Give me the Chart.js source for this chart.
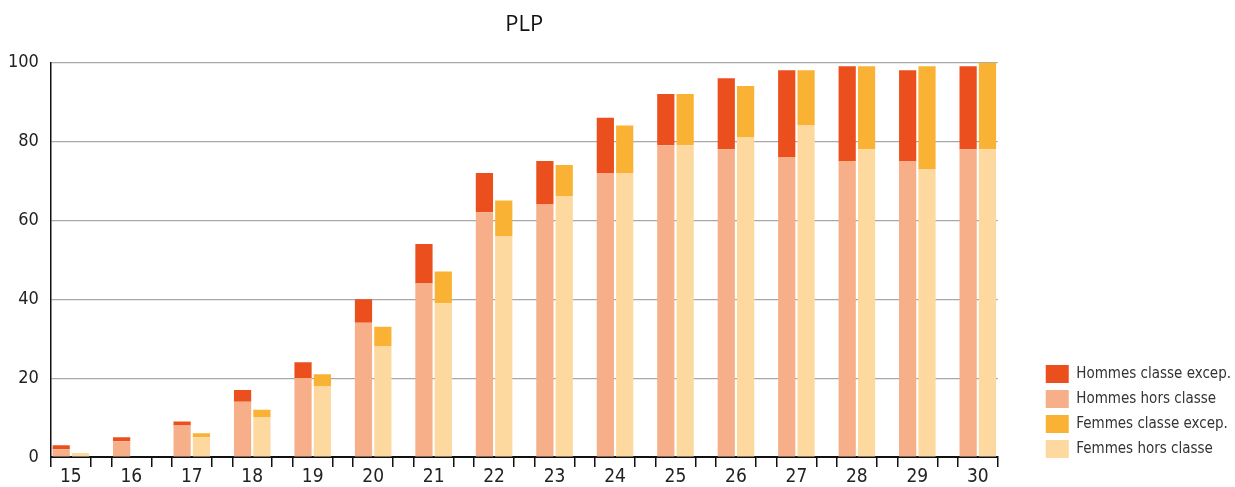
<!DOCTYPE html>
<html>
<head>
<meta charset="utf-8">
<script src="https://cdn.jsdelivr.net/npm/chart.js@4"></script>
<style>
  html, body { margin: 0; padding: 0; background: #fff; }
  #wrap { width: 1235px; height: 487px; position: relative; }
</style>
</head>
<body>
<div id="wrap"><canvas id="plpChart"></canvas></div>
<script>
//Chart data
var categories = [15, 16, 17, 18, 19, 20, 21, 22, 23, 24, 25, 26, 27, 28, 29, 30];
var hommesHors = [2, 4, 8, 14, 20, 34, 44, 62, 64, 72, 79, 78, 76, 75, 75, 78];
var hommesExcep = [1, 1, 1, 3, 4, 6, 10, 10, 11, 14, 13, 18, 22, 24, 23, 21];
var femmesHors = [1, 0, 5, 10, 18, 28, 39, 56, 66, 72, 79, 81, 84, 78, 73, 78];
var femmesExcep = [0, 0, 1, 2, 3, 5, 8, 9, 8, 12, 13, 13, 14, 21, 26, 22];
var yTicks = [0, 20, 40, 60, 80, 100];

var half = 0.33; //half width of a pair of bars, in x units
var narrow = "'Liberation Sans Narrow', 'DejaVu Sans Condensed', sans-serif";

//Make {x,y} points for the linear x scale
function toPoints(values){
  var pts = [];
  for(i = 0; i < values.length; i++){
    pts.push({x: categories[i], y: values[i]});
  }
  return pts;
}

function makeDataset(label, values, color, stack){
  return {
    label: label,
    data: toPoints(values),
    backgroundColor: color,
    borderWidth: 0,
    stack: stack,
    categoryPercentage: 0.64,
    barPercentage: 0.89
  };
}

//legend order: excep first, hors second
var legendRank = [1, 0, 3, 2];

//push the legend a little lower, like the original
var legendShift = {
  id: 'legendShift',
  afterLayout: function(chart){
    chart.legend.top += 8;
    chart.legend.bottom += 8;
  }
};

function initChart(){
  var ctx = document.getElementById('plpChart').getContext('2d');
  var myChart = new Chart(ctx, {
    type: 'bar',
    data: {
      datasets: [
        makeDataset('Hommes hors classe', hommesHors, 'rgb(246,175,137)', 'H'),
        makeDataset('Hommes classe excep.', hommesExcep, 'rgb(235,79,29)', 'H'),
        makeDataset('Femmes hors classe', femmesHors, 'rgb(253,217,160)', 'F'),
        makeDataset('Femmes classe excep.', femmesExcep, 'rgb(250,178,52)', 'F')
      ]
    },
    plugins: [legendShift],
    options: {
      responsive: true,
      maintainAspectRatio: false,
      animation: false,
      layout: { padding: { left: -4, right: -6, top: 6, bottom: 0 } },
      plugins: {
        title: {
          display: true,
          text: 'PLP',
          fullSize: false,
          color: '#111',
          font: { family: "'Open Sans', sans-serif", size: 22, weight: 'normal' },
          padding: { top: 6, bottom: 24 }
        },
        legend: {
          position: 'right',
          align: 'end',
          fullSize: false,
          labels: {
            boxWidth: 23,
            boxHeight: 18,
            padding: 7,
            color: '#333',
            font: { family: narrow, size: 15 },
            sort: function(a, b){
              return legendRank[a.datasetIndex] - legendRank[b.datasetIndex];
            }
          }
        },
        tooltip: { enabled: false }
      },
      scales: {
        x: {
          type: 'linear',
          stacked: true,
          offset: false,
          weight: 1,
          min: categories[0] - half,
          max: categories[categories.length - 1] + half,
          afterBuildTicks: function(scale){
            scale.ticks = categories.map(function(v){ return {value: v}; });
          },
          grid: { display: false, drawTicks: false, offset: false },
          border: { display: false },
          ticks: {
            autoSkip: false,
            maxRotation: 0,
            padding: 0,
            color: '#222',
            font: { family: narrow, size: 19, lineHeight: 1.05 }
          }
        },
        //tick marks at the edges of each pair of bars
        xEdges: {
          type: 'linear',
          position: 'bottom',
          offset: false,
          weight: 0,
          min: categories[0] - half,
          max: categories[categories.length - 1] + half,
          afterBuildTicks: function(scale){
            var t = [];
            for(i = 0; i < categories.length; i++){
              t.push({value: categories[i] - half});
              t.push({value: categories[i] + half});
            }
            scale.ticks = t;
          },
          grid: {
            drawOnChartArea: false,
            offset: false,
            tickLength: 10,
            lineWidth: 1.5,
            color: '#111'
          },
          border: { color: '#111', width: 2 },
          ticks: { display: false }
        },
        y: {
          stacked: true,
          min: 0,
          max: 100,
          afterBuildTicks: function(scale){
            scale.ticks = yTicks.map(function(v){ return {value: v}; });
          },
          grid: {
            color: '#a8a8a8',
            lineWidth: 1.2,
            drawTicks: false
          },
          border: { color: '#111', width: 1.5 },
          ticks: {
            padding: 12,
            color: '#222',
            font: { family: narrow, size: 18 }
          }
        },
        //empty space between the plot and the legend
        ySpace: {
          position: 'right',
          grid: { display: false },
          border: { display: false },
          ticks: { display: false },
          afterFit: function(scale){ scale.width = 41; }
        }
      }
    }
  });
}

window.onload = initChart;
</script>
</body>
</html>
